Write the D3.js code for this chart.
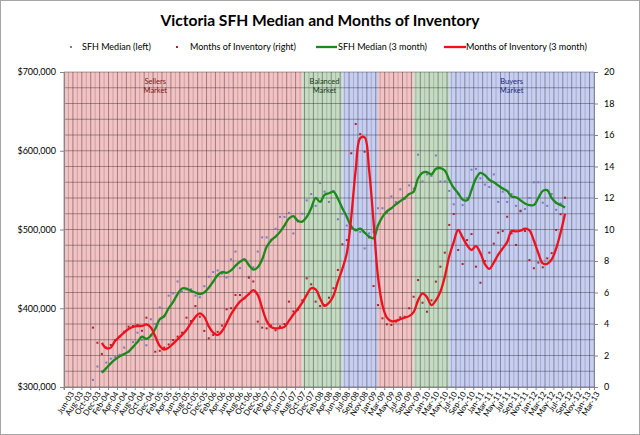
<!DOCTYPE html>
<meta charset="utf-8">
<style>
  body { margin: 0; background: #fff; }
  text { font-family: Lato, "Open Sans", sans-serif; }
</style>
<script src="https://d3js.org/d3.v7.min.js"></script>
<div id="my_dataviz"></div>
<script>

// categories (one per row of the sheet; the sheet repeats Jun-08)
var months = [
  "Jun-03","Jul-03","Aug-03","Sep-03","Oct-03","Nov-03","Dec-03",
  "Jan-04","Feb-04","Mar-04","Apr-04","May-04","Jun-04","Jul-04","Aug-04","Sep-04","Oct-04","Nov-04","Dec-04",
  "Jan-05","Feb-05","Mar-05","Apr-05","May-05","Jun-05","Jul-05","Aug-05","Sep-05","Oct-05","Nov-05","Dec-05",
  "Jan-06","Feb-06","Mar-06","Apr-06","May-06","Jun-06","Jul-06","Aug-06","Sep-06","Oct-06","Nov-06","Dec-06",
  "Jan-07","Feb-07","Mar-07","Apr-07","May-07","Jun-07","Jul-07","Aug-07","Sep-07","Oct-07","Nov-07","Dec-07",
  "Jan-08","Feb-08","Mar-08","Apr-08","May-08","Jun-08","Jun-08","Jul-08","Aug-08","Sep-08","Oct-08","Nov-08","Dec-08",
  "Jan-09","Feb-09","Mar-09","Apr-09","May-09","Jun-09","Jul-09","Aug-09","Sep-09","Oct-09","Nov-09","Dec-09",
  "Jan-10","Feb-10","Mar-10","Apr-10","May-10","Jun-10","Jul-10","Aug-10","Sep-10","Oct-10","Nov-10","Dec-10",
  "Jan-11","Feb-11","Mar-11","Apr-11","May-11","Jun-11","Jul-11","Aug-11","Sep-11","Oct-11","Nov-11","Dec-11",
  "Jan-12","Feb-12","Mar-12","Apr-12","May-12","Jun-12","Jul-12","Aug-12","Sep-12","Oct-12","Nov-12","Dec-12",
  "Jan-13","Feb-13","Mar-13"
];

// monthly values, first one at Dec-03 (row 6)
var rawStart = 6;
var medianRaw = [
  309000,326000,320000,331000,336000,338000,341000,350000,345000,357000,
  369000,360000,353000,386000,380000,401000,390000,416000,419000,434000,
  421000,424000,424000,416000,414000,428000,440000,446000,448000,444000,
  439000,462000,472000,451000,462000,440000,452000,472000,490000,490000,
  487000,501000,516000,516000,521000,495000,510000,520000,537000,545000,
  530000,559000,548000,535000,549000,513000,520000,505000,501000,500000,
  497000,476000,495000,497000,527000,527000,521000,542000,535000,551000,
  539000,556000,552000,595000,561000,570000,568000,594000,561000,561000,
  549000,532000,545000,531000,540000,576000,577000,565000,557000,554000,
  570000,535000,548000,535000,545000,530000,523000,526000,540000,560000,
  560000,534000,530000,545000,525000,533000,540000
];
var inventoryRaw = [
  3.77,2.81,2.1,2.5,2.67,2.98,3.2,3.51,3.83,3.87,
  3.94,3.57,4.4,3.3,2.24,2.3,2.5,2.7,2.98,3.2,
  3.45,4.4,4.19,5.14,4.46,3.56,3.09,3.3,3.5,3.9,
  4.93,5.0,5.84,5.84,5.63,6.94,6.7,4.15,3.77,3.72,
  3.9,3.6,3.85,4.0,5.42,4.8,4.9,5.5,6.9,6.52,
  5.42,5.14,5.2,5.67,6.27,7.43,9.06,9.33,14.84,16.7,
  16.06,14.94,9.5,6.41,5.2,4.36,3.98,3.94,4.15,4.42,
  4.46,5.0,5.73,6.79,5.35,4.78,5.5,6.69,7.64,8.53,
  10.29,10.98,8.7,7.81,9.33,9.71,7.64,6.62,8.0,8.53,
  9.1,9.8,9.9,10.81,9.76,9.02,11.19,9.9,8.06,7.54,
  7.9,7.6,8.17,8.5,9.97,10.97,12.02
];

// 3 month averages, first one at Feb-04 (row 8)
var avgStart = 8;
var median3 = [
  318000,324000,330000,335000,339000,342000,345000,351000,357000,364000,
  361000,365000,374000,386000,390000,400000,408000,418000,425000,425000,
  422000,420000,418000,420000,426000,434000,442000,446000,445000,448000,
  454000,459000,462000,455000,449000,452000,462000,478000,486000,491000,
  497000,505000,514000,517000,511000,510000,516000,527000,540000,535000,
  544000,546000,548000,539000,527000,516000,504000,499000,501000,496000,
  491000,489000,505000,516000,523000,527000,532000,536000,540000,545000,
  548000,565000,572000,573000,570000,577000,578000,575000,563000,553000,
  546000,538000,537000,550000,565000,572000,569000,563000,560000,556000,
  552000,549000,542000,541000,537000,533000,531000,531000,540000,549000,
  550000,540000,534000,531000,528000
];
var inventory3 = [
  2.8,2.46,2.5,2.94,3.2,3.45,3.68,3.82,3.87,3.88,
  3.97,3.78,3.2,2.6,2.38,2.5,2.75,3.03,3.3,3.62,
  4.05,4.45,4.68,4.45,3.85,3.45,3.3,3.55,4.05,4.62,
  5.05,5.42,5.65,5.9,6.15,5.85,5.0,4.2,3.8,3.72,
  3.75,3.82,4.2,4.6,4.95,5.35,5.85,6.27,6.2,5.63,
  5.15,5.35,5.8,6.7,7.5,8.5,10.8,13.8,15.8,15.85,
  13.8,10.5,7.0,5.2,4.4,4.18,4.2,4.3,4.4,4.5,
  4.75,5.5,5.95,5.7,5.2,5.5,6.05,7.0,8.3,9.2,
  9.97,9.5,9.0,8.7,8.95,8.5,7.8,7.5,7.9,8.4,
  8.8,9.2,9.9,9.88,9.92,10.05,9.95,9.3,8.5,7.85,
  7.82,8.1,8.8,9.8,11.0
];

// market phases (row where each one starts)
var phaseNames = ["Sellers","Balanced","Buyers","Sellers","Balanced","Buyers"];
var phaseStart = [0, 53, 62, 70, 78, 86];
var phaseLabelRow = [20, 58, 100, null, null, null];
var phaseColor = {Sellers: "#f3c2c2", Balanced: "#c4dcc1", Buyers: "#c6cff2"};
var phaseText = {Sellers: "#7a1a1a", Balanced: "#1a3a1a", Buyers: "#1a2a7a"};

var medianTicks = [300000, 400000, 500000, 600000, 700000];
var inventoryTicks = [0, 2, 4, 6, 8, 10, 12, 14, 16, 18, 20];

// set the dimensions of the plot area
var W = 640, H = 435;
var pLeft = 64, pRight = 594, pTop = 72, pBottom = 387;

var svg = d3.select("#my_dataviz")
  .append("svg")
    .attr("width", W)
    .attr("height", H);

svg.append("rect")
  .attr("x", 0.5).attr("y", 0.5)
  .attr("width", W - 1).attr("height", H - 1)
  .attr("fill", "#fff").attr("stroke", "#a6a6a6");

var x = d3.scaleBand()
  .domain(d3.range(months.length))
  .range([pLeft, pRight])
  .padding(0);
var cx = function(i) { return x(i) + x.bandwidth() / 2; };

var yL = d3.scaleLinear().domain([300000, 700000]).range([pBottom, pTop]);
var yR = d3.scaleLinear().domain([0, 20]).range([pBottom, pTop]);

// background bands
var plot = svg.append("g");
phaseNames.forEach(function(p, k) {
  var x0 = k == 0 ? pLeft : cx(phaseStart[k]);
  var x1 = k == phaseNames.length - 1 ? pRight : cx(phaseStart[k + 1]);
  plot.append("rect")
    .attr("x", x0).attr("y", pTop)
    .attr("width", x1 - x0).attr("height", pBottom - pTop)
    .attr("fill", phaseColor[p]);
});

// gridlines
d3.range(months.length + 1).forEach(function(b) {
  var gx = b == months.length ? pRight : x(b);
  plot.append("line")
    .attr("x1", gx).attr("x2", gx)
    .attr("y1", pTop).attr("y2", pBottom)
    .attr("stroke", b % 2 == 0 ? "rgba(40,30,40,0.42)" : "rgba(40,30,40,0.2)")
    .attr("stroke-width", 1);
});
d3.range(0, 21).forEach(function(v) {
  plot.append("line")
    .attr("x1", pLeft).attr("x2", pRight)
    .attr("y1", yR(v)).attr("y2", yR(v))
    .attr("stroke", "rgba(40,30,40,0.4)")
    .attr("stroke-width", 1);
});

// phase labels
phaseNames.forEach(function(p, k) {
  if (phaseLabelRow[k] == null) return;
  var t = plot.append("text")
    .attr("x", cx(phaseLabelRow[k]))
    .attr("y", 84)
    .attr("text-anchor", "middle")
    .style("font-size", "7.5px")
    .attr("fill", phaseText[p]);
  t.append("tspan").attr("x", cx(phaseLabelRow[k])).text(p);
  t.append("tspan").attr("x", cx(phaseLabelRow[k])).attr("dy", 8.5).text("Market");
});

// axes
var axL = svg.append("g")
  .attr("transform", "translate(" + pLeft + ",0)")
  .call(d3.axisLeft(yL).tickValues(medianTicks).tickFormat(d3.format("$,")).tickSize(4).tickPadding(4));
var axR = svg.append("g")
  .attr("transform", "translate(" + pRight + ",0)")
  .call(d3.axisRight(yR).tickValues(inventoryTicks).tickSize(4).tickPadding(6));
var axB = svg.append("g")
  .attr("transform", "translate(0," + pBottom + ")")
  .call(d3.axisBottom(x)
    .tickValues(d3.range(0, months.length, 2))
    .tickFormat(function(i) { return months[i]; })
    .tickSize(3).tickPadding(2));

[axL, axR, axB].forEach(function(a) {
  a.selectAll("path, line").attr("stroke", "#868686");
  a.selectAll("text").style("font-size", "9px").attr("fill", "#000")
    .style("font-family", "Lato, sans-serif");
});
axB.selectAll(".tick line").attr("transform", "translate(" + (-x.bandwidth() / 2) + ",0)");
axB.selectAll("text")
  .style("font-size", "8px")
  .attr("text-anchor", "end")
  .attr("dy", "0.3em")
  .attr("transform", "translate(2,3) rotate(-58)");

// scatter points
var marks = svg.append("g");
medianRaw.forEach(function(v, k) {
  marks.append("rect")
    .attr("x", cx(rawStart + k) - 1).attr("y", yL(v) - 1)
    .attr("width", 2).attr("height", 2)
    .attr("fill", "#7a78c4");
});
inventoryRaw.forEach(function(v, k) {
  marks.append("rect")
    .attr("x", cx(rawStart + k) - 1).attr("y", yR(v) - 1)
    .attr("width", 2).attr("height", 2)
    .attr("fill", "#b0202a");
});

// 3 month lines
var lineL = d3.line()
  .x(function(d, k) { return cx(avgStart + k); })
  .y(function(d) { return yL(d); })
  .curve(d3.curveCatmullRom.alpha(0.5));
var lineR = d3.line()
  .x(function(d, k) { return cx(avgStart + k); })
  .y(function(d) { return yR(d); })
  .curve(d3.curveCatmullRom.alpha(0.5));

svg.append("path").datum(median3)
  .attr("d", lineL)
  .attr("fill", "none").attr("stroke", "#1b8a1b").attr("stroke-width", 2.3);
svg.append("path").datum(inventory3)
  .attr("d", lineR)
  .attr("fill", "none").attr("stroke", "#f0101c").attr("stroke-width", 2.3);

// title
svg.append("text")
  .attr("x", 320).attr("y", 26)
  .attr("text-anchor", "middle")
  .style("font-size", "15.6px").style("font-weight", "bold")
  .text("Victoria SFH Median and Months of Inventory");

// legend
var lg = svg.append("g").style("font-size", "9px");
lg.append("rect").attr("x", 70).attr("y", 46).attr("width", 2).attr("height", 2).attr("fill", "#7a78c4");
lg.append("text").attr("x", 82).attr("y", 50).text("SFH Median (left)");
lg.append("rect").attr("x", 176).attr("y", 46).attr("width", 2).attr("height", 2).attr("fill", "#b0202a");
lg.append("text").attr("x", 190).attr("y", 50).text("Months of Inventory (right)");
lg.append("line").attr("x1", 316).attr("x2", 337).attr("y1", 47).attr("y2", 47)
  .attr("stroke", "#1b8a1b").attr("stroke-width", 2.3);
lg.append("text").attr("x", 338).attr("y", 50).text("SFH Median (3 month)");
lg.append("line").attr("x1", 444).attr("x2", 466).attr("y1", 47).attr("y2", 47)
  .attr("stroke", "#f0101c").attr("stroke-width", 2.3);
lg.append("text").attr("x", 466).attr("y", 50).text("Months of Inventory (3 month)");

</script>
